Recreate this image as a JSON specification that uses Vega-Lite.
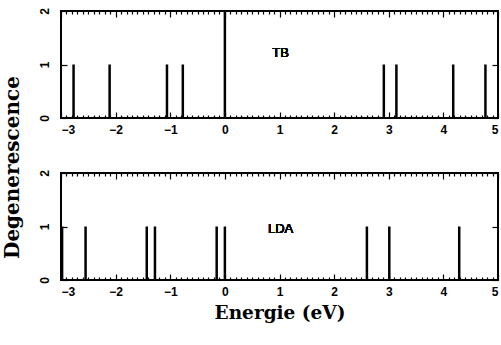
{
  "$schema": "https://vega.github.io/schema/vega-lite/v6.json",
  "background": "white",
  "padding": {"left": 0, "top": 6, "right": 3, "bottom": 5},
  "spacing": 55,
  "bounds": "flush",
  "datasets": {
    "tb": [
      {"energie": -2.77, "deg": 1}, {"energie": -2.11, "deg": 1}, {"energie": -1.06, "deg": 1},
      {"energie": -0.77, "deg": 1}, {"energie": 0.0, "deg": 2}, {"energie": 2.91, "deg": 1},
      {"energie": 3.14, "deg": 1}, {"energie": 4.18, "deg": 1}, {"energie": 4.77, "deg": 1}
    ],
    "lda": [
      {"energie": -2.98, "deg": 1}, {"energie": -2.55, "deg": 1}, {"energie": -1.43, "deg": 1},
      {"energie": -1.28, "deg": 1}, {"energie": -0.15, "deg": 1}, {"energie": 0.0, "deg": 1},
      {"energie": 2.60, "deg": 1}, {"energie": 3.01, "deg": 1}, {"energie": 4.29, "deg": 1}
    ]
  },
  "config": {
    "view": {"stroke": "black", "strokeWidth": 2},
    "axis": {
      "labelFont": "Liberation Sans", "labelFontWeight": "bold", "labelFontSize": 12, "labelColor": "black",
      "titleFont": "DejaVu Serif", "titleFontWeight": "bold", "titleFontSize": 20, "titleColor": "black",
      "domain": false, "grid": false, "tickColor": "black", "tickWidth": 1.2, "labelOverlap": false, "zindex": 1
    }
  },
  "vconcat": [
    {
      "width": 437, "height": 107,
      "data": {"name": "tb"},
      "layer": [
        {
          "mark": {"type": "point", "opacity": 0},
          "encoding": {
            "x": {"field": "energie", "type": "quantitative",
              "axis": {"orient": "bottom", "title": null, "labels": false, "tickSize": -3,
                "values": [-2.9,-2.8,-2.7,-2.6,-2.5,-2.4,-2.3,-2.2,-2.1,-1.9,-1.8,-1.7,-1.6,-1.5,-1.4,-1.3,-1.2,-1.1,-0.9,-0.8,-0.7,-0.6,-0.5,-0.4,-0.3,-0.2,-0.1,0.1,0.2,0.3,0.4,0.5,0.6,0.7,0.8,0.9,1.1,1.2,1.3,1.4,1.5,1.6,1.7,1.8,1.9,2.1,2.2,2.3,2.4,2.5,2.6,2.7,2.8,2.9,3.1,3.2,3.3,3.4,3.5,3.6,3.7,3.8,3.9,4.1,4.2,4.3,4.4,4.5,4.6,4.7,4.8,4.9]}},
            "y": {"field": "deg", "type": "quantitative", "axis": null}
          }
        },
        {
          "mark": {"type": "point", "opacity": 0},
          "encoding": {
            "x": {"field": "energie", "type": "quantitative",
              "axis": {"orient": "top", "title": null, "labels": false, "tickSize": -3,
                "values": [-2.9,-2.8,-2.7,-2.6,-2.5,-2.4,-2.3,-2.2,-2.1,-1.9,-1.8,-1.7,-1.6,-1.5,-1.4,-1.3,-1.2,-1.1,-0.9,-0.8,-0.7,-0.6,-0.5,-0.4,-0.3,-0.2,-0.1,0.1,0.2,0.3,0.4,0.5,0.6,0.7,0.8,0.9,1.1,1.2,1.3,1.4,1.5,1.6,1.7,1.8,1.9,2.1,2.2,2.3,2.4,2.5,2.6,2.7,2.8,2.9,3.1,3.2,3.3,3.4,3.5,3.6,3.7,3.8,3.9,4.1,4.2,4.3,4.4,4.5,4.6,4.7,4.8,4.9]}},
            "y": {"field": "deg", "type": "quantitative", "axis": null}
          }
        },
        {
          "mark": {"type": "rule", "color": "black", "strokeWidth": 2.5},
          "encoding": {
            "x": {"field": "energie", "type": "quantitative", "scale": {"domain": [-3, 5], "nice": false},
              "axis": {"orient": "bottom", "title": null, "values": [-3, -2, -1, 0, 1, 2, 3, 4, 5], "tickSize": -6, "labelPadding": 12}},
            "y": {"field": "deg", "type": "quantitative", "scale": {"domain": [0, 2], "nice": false},
              "axis": {"orient": "left", "title": null, "values": [0, 1, 2], "labelExpr": "replace(datum.label, '.0', '')", "tickSize": -6, "labelAngle": -90, "labelAlign": "center", "labelBaseline": "bottom", "labelPadding": 16}},
            "y2": {"datum": 0}
          }
        },
        {
          "mark": {"type": "point", "opacity": 0},
          "encoding": {
            "x": {"field": "energie", "type": "quantitative",
              "axis": {"orient": "top", "title": null, "labels": false, "values": [-3, -2, -1, 0, 1, 2, 3, 4, 5], "tickSize": -6}},
            "y": {"field": "deg", "type": "quantitative",
              "axis": {"orient": "right", "title": null, "labels": false, "values": [0, 1, 2], "tickSize": -6}}
          }
        },
        {
          "mark": {"type": "text", "font": "Liberation Sans", "fontSize": 13, "fontWeight": "normal", "color": "black"},
          "encoding": {"x": {"datum": 1.02, "axis": null}, "y": {"datum": 1.22, "axis": null}, "text": {"value": "TB"}}
        }
      ],
      "resolve": {"axis": {"x": "independent", "y": "independent"}}
    },
    {
      "width": 437, "height": 107,
      "data": {"name": "lda"},
      "layer": [
        {
          "mark": {"type": "point", "opacity": 0},
          "encoding": {
            "x": {"field": "energie", "type": "quantitative",
              "axis": {"orient": "bottom", "title": null, "labels": false, "tickSize": -3,
                "values": [-2.9,-2.8,-2.7,-2.6,-2.5,-2.4,-2.3,-2.2,-2.1,-1.9,-1.8,-1.7,-1.6,-1.5,-1.4,-1.3,-1.2,-1.1,-0.9,-0.8,-0.7,-0.6,-0.5,-0.4,-0.3,-0.2,-0.1,0.1,0.2,0.3,0.4,0.5,0.6,0.7,0.8,0.9,1.1,1.2,1.3,1.4,1.5,1.6,1.7,1.8,1.9,2.1,2.2,2.3,2.4,2.5,2.6,2.7,2.8,2.9,3.1,3.2,3.3,3.4,3.5,3.6,3.7,3.8,3.9,4.1,4.2,4.3,4.4,4.5,4.6,4.7,4.8,4.9]}},
            "y": {"field": "deg", "type": "quantitative", "axis": null}
          }
        },
        {
          "mark": {"type": "point", "opacity": 0},
          "encoding": {
            "x": {"field": "energie", "type": "quantitative",
              "axis": {"orient": "top", "title": null, "labels": false, "tickSize": -3,
                "values": [-2.9,-2.8,-2.7,-2.6,-2.5,-2.4,-2.3,-2.2,-2.1,-1.9,-1.8,-1.7,-1.6,-1.5,-1.4,-1.3,-1.2,-1.1,-0.9,-0.8,-0.7,-0.6,-0.5,-0.4,-0.3,-0.2,-0.1,0.1,0.2,0.3,0.4,0.5,0.6,0.7,0.8,0.9,1.1,1.2,1.3,1.4,1.5,1.6,1.7,1.8,1.9,2.1,2.2,2.3,2.4,2.5,2.6,2.7,2.8,2.9,3.1,3.2,3.3,3.4,3.5,3.6,3.7,3.8,3.9,4.1,4.2,4.3,4.4,4.5,4.6,4.7,4.8,4.9]}},
            "y": {"field": "deg", "type": "quantitative", "axis": null}
          }
        },
        {
          "mark": {"type": "rule", "color": "black", "strokeWidth": 2.5},
          "encoding": {
            "x": {"field": "energie", "type": "quantitative", "scale": {"domain": [-3, 5], "nice": false},
              "axis": {"orient": "bottom", "title": "Energie (eV)", "titleFontSize": 18.5, "titlePadding": 6, "values": [-3, -2, -1, 0, 1, 2, 3, 4, 5], "tickSize": -6, "labelPadding": 12}},
            "y": {"field": "deg", "type": "quantitative", "scale": {"domain": [0, 2], "nice": false},
              "axis": {"orient": "left", "title": "Degenerescence", "titleX": -39, "titleY": -6, "titleAlign": "center", "values": [0, 1, 2], "labelExpr": "replace(datum.label, '.0', '')", "tickSize": -6, "labelAngle": -90, "labelAlign": "center", "labelBaseline": "bottom", "labelPadding": 16}},
            "y2": {"datum": 0}
          }
        },
        {
          "mark": {"type": "point", "opacity": 0},
          "encoding": {
            "x": {"field": "energie", "type": "quantitative",
              "axis": {"orient": "top", "title": null, "labels": false, "values": [-3, -2, -1, 0, 1, 2, 3, 4, 5], "tickSize": -6}},
            "y": {"field": "deg", "type": "quantitative",
              "axis": {"orient": "right", "title": null, "labels": false, "values": [0, 1, 2], "tickSize": -6}}
          }
        },
        {
          "mark": {"type": "text", "font": "Liberation Sans", "fontSize": 13, "fontWeight": "normal", "color": "black"},
          "encoding": {"x": {"datum": 1.02, "axis": null}, "y": {"datum": 0.96, "axis": null}, "text": {"value": "LDA"}}
        }
      ],
      "resolve": {"axis": {"x": "independent", "y": "independent"}}
    }
  ]
}
